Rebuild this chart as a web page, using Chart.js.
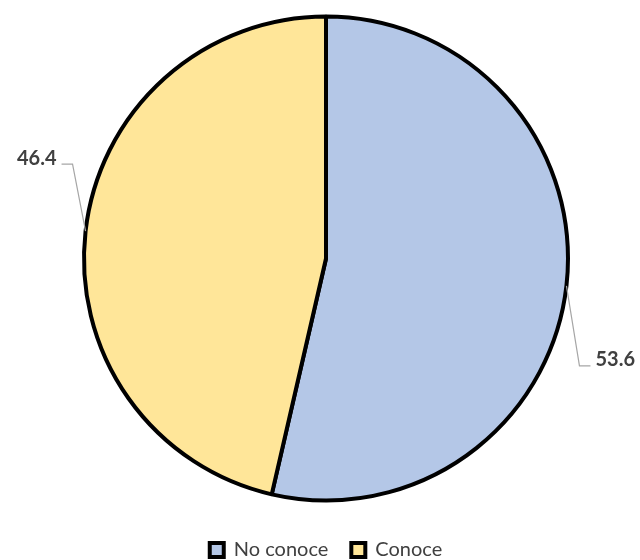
<!DOCTYPE html>
<html>
<head>
<meta charset="utf-8">
<script src="https://cdn.jsdelivr.net/npm/chart.js@4/dist/chart.umd.min.js"></script>
<style>
  html, body { margin: 0; padding: 0; background: #fff; }
  #wrap { width: 640px; height: 560px; }
</style>
</head>
<body>
<div id="wrap"><canvas id="pieChart"></canvas></div>
<script>
const categories = ['No conoce', 'Conoce'];
const values = [53.6, 46.4];
const colors = ['#B4C7E7', '#FFE699'];

// leader lines + value labels, Excel style
const leaderLabels = {
    id: 'leaderLabels',
    afterDatasetsDraw(chart) {
        const ctx = chart.ctx;
        const meta = chart.getDatasetMeta(0);
        ctx.save();
        ctx.font = 'bold 20px Lato, "Open Sans", sans-serif';
        ctx.fillStyle = '#404040';
        ctx.strokeStyle = '#A6A6A6';
        ctx.lineWidth = 1.2;
        ctx.textBaseline = 'middle';
        meta.data.forEach((arc, i) => {
            const mid = (arc.startAngle + arc.endAngle) / 2;
            const r = arc.outerRadius;
            const sx = arc.x + Math.cos(mid) * r;
            const sy = arc.y + Math.sin(mid) * r;
            const right = Math.cos(mid) >= 0;
            const dir = right ? 1 : -1;
            const ly = right ? sy + 80 : sy - 67;
            ctx.beginPath();
            ctx.moveTo(sx, sy);
            ctx.lineTo(sx + dir * 13, ly);
            ctx.lineTo(sx + dir * 24, ly);
            ctx.stroke();
            ctx.textAlign = right ? 'left' : 'right';
            ctx.fillText(values[i].toFixed(1), sx + dir * 29, ly - 6);
        });
        ctx.restore();
    }
};

const ctx = document.getElementById('pieChart').getContext('2d');
new Chart(ctx, {
    type: 'pie',
    data: {
        labels: categories,
        datasets: [{
            data: values,
            backgroundColor: colors,
            borderColor: '#000000',
            borderWidth: 4,
            radius: 242
        }]
    },
    options: {
        responsive: true,
        maintainAspectRatio: false,
        animation: false,
        layout: { padding: { top: 0, left: 12, bottom: -10 } },
        plugins: {
            tooltip: { enabled: false },
            legend: {
                position: 'bottom',
                labels: {
                    boxWidth: 14,
                    boxHeight: 14,
                    padding: 23,
                    color: '#404040',
                    font: { family: 'Lato, "Open Sans", sans-serif', size: 20 }
                }
            }
        }
    },
    plugins: [leaderLabels]
});
</script>
</body>
</html>
